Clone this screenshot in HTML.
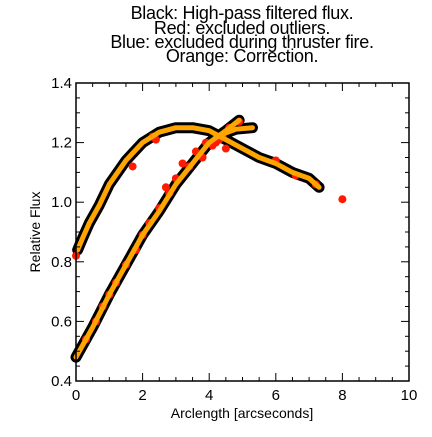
<!DOCTYPE html>
<html><head><meta charset="utf-8"><style>
html,body{margin:0;padding:0;background:#fff;}
svg text{font-family:"Liberation Sans",sans-serif;fill:#000;}
</style></head><body>
<svg id="c" width="432" height="432" viewBox="0 0 432 432">
<g font-size="18" text-anchor="middle" letter-spacing="-0.3">
<text x="242" y="19">Black: High-pass filtered flux.</text>
<text x="242" y="34">Red: excluded outliers.</text>
<text x="242" y="48">Blue: excluded during thruster fire.</text>
<text x="242" y="62">Orange: Correction.</text>
</g>
<g id="marks"></g>
<g id="axes"></g>
<text x="242" y="418" font-size="14" text-anchor="middle">Arclength [arcseconds]</text>
<text transform="translate(40,232) rotate(-90)" font-size="14" text-anchor="middle">Relative Flux</text>
</svg>
<script>
const upperX=[0.05,0.2,0.4,0.7,1.0,1.5,2.0,2.5,3.0,3.5,4.0,4.5,5.0,5.5,6.0,6.5,7.0,7.3];
const upperY=[0.84,0.88,0.93,0.99,1.06,1.14,1.2,1.235,1.25,1.25,1.24,1.21,1.18,1.15,1.13,1.1,1.08,1.05];
const lowerX=[0,0.5,1.0,1.5,2.0,2.5,3.0,3.5,4.0,4.5,4.9];
const lowerY=[0.48,0.58,0.69,0.79,0.89,0.97,1.06,1.13,1.2,1.24,1.275];
const tailX=[4.2,4.8,5.3];
const tailY=[1.22,1.245,1.25];
const outX=[0.0,0.6,1.2,1.5,2.0,2.3,2.7,3.0,3.2,3.6,3.9,4.2,4.4,4.5,4.9,6.0,6.6,7.2,8.0,0.3,2.5,0.8,1.0,1.8,2.2,2.8,3.4,3.8,4.1,4.3,4.6,1.7,2.4];
const outY=[0.82,0.6,0.73,0.79,0.89,1.22,1.05,1.08,1.13,1.17,1.2,1.2,1.22,1.18,1.27,1.14,1.09,1.06,1.01,0.54,0.98,0.65,0.69,0.84,0.93,1.03,1.12,1.15,1.19,1.21,1.25,1.12,1.21];
const xTicks=[0,2,4,6,8,10];
const yTicks=[0.4,0.6,0.8,1.0,1.2,1.4];
const yLabels=["0.4","0.6","0.8","1.0","1.2","1.4"];
const L=76,R=409,T=83,B=381;
const sx=v=>L+(v-0)/(10-0)*(R-L);
const sy=v=>B-(v-0.4)/(1.4-0.4)*(B-T);
const NS="http://www.w3.org/2000/svg";
const marks=document.getElementById('marks'),axes=document.getElementById('axes');
function mk(t,a,p){const e=document.createElementNS(NS,t);for(const k in a)e.setAttribute(k,a[k]);p.appendChild(e);return e;}
function pts(xs,ys){return xs.map((x,i)=>sx(x)+','+sy(ys[i])).join(' ');}
[[upperX,upperY,'upper'],[lowerX,lowerY,'lower'],[tailX,tailY,'tail']].forEach(([xs,ys,n])=>{
 const b=mk('polyline',{points:pts(xs,ys),fill:'none',stroke:'#000','stroke-width':11,'stroke-linecap':'round','stroke-linejoin':'round'},marks);
 
 
});
outX.forEach((x,i)=>{
 const c=mk('circle',{cx:sx(x),cy:sy(outY[i]),r:4,fill:'#ff1a00'},marks);
 
 
});
[[upperX,upperY,'upper'],[lowerX,lowerY,'lower'],[tailX,tailY,'tail']].forEach(([xs,ys,n])=>{
 const o=mk('polyline',{points:pts(xs,ys),fill:'none',stroke:'#ffa500','stroke-width':5,'stroke-linecap':'round','stroke-linejoin':'round'},marks);
 
 
});
const fr=mk('rect',{x:L,y:T,width:R-L,height:B-T,fill:'none',stroke:'#000','stroke-width':1.5},axes);


for(let v=0;v<=10.001;v+=0.5){const maj=Math.abs(v/2-Math.round(v/2))<1e-6;const len=maj?8:4;
 mk('line',{x1:sx(v),x2:sx(v),y1:B,y2:B-len,stroke:'#000'},axes);
 mk('line',{x1:sx(v),x2:sx(v),y1:T,y2:T+len,stroke:'#000'},axes);}
for(let v=0.4;v<=1.4001;v+=0.05){const maj=Math.abs(v*5-Math.round(v*5))<1e-6;const len=maj?8:4;
 mk('line',{x1:L,x2:L+len,y1:sy(v),y2:sy(v),stroke:'#000'},axes);
 mk('line',{x1:R,x2:R-len,y1:sy(v),y2:sy(v),stroke:'#000'},axes);}
xTicks.forEach(v=>{const t=mk('text',{x:sx(v),y:B+19,'font-size':15,'text-anchor':'middle'},axes);t.textContent=v;
 
 });
yTicks.forEach((v,i)=>{const t=mk('text',{x:L-4,y:sy(v)+5,'font-size':15,'text-anchor':'end'},axes);t.textContent=yLabels[i];
 
 });
</script>
</body></html>
